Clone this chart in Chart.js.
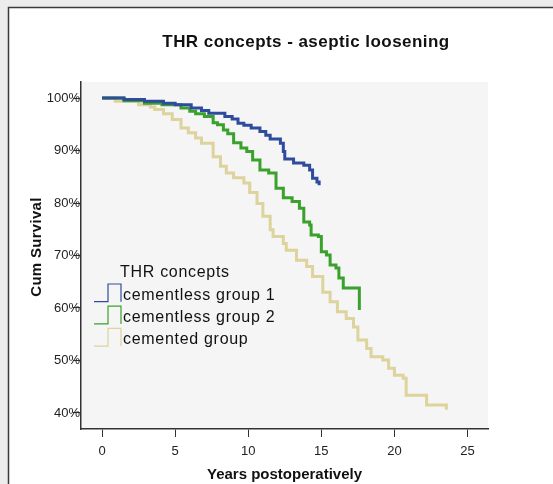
<!DOCTYPE html>
<html>
<head>
<meta charset="utf-8">
<script src="https://cdn.jsdelivr.net/npm/chart.js@4/dist/chart.umd.min.js"></script>
<style>
  html, body { margin: 0; padding: 0; background: #ececec; }
  #wrap { width: 553px; height: 484px; }
</style>
</head>
<body>
<div id="wrap"><canvas id="km-chart" width="553" height="484"></canvas></div>
<script>
// Kaplan-Meier curves, years vs cumulative survival (%)
var g1Years = [0, 1.5, 2.9, 4.2, 5.0, 6.1, 6.8, 7.3, 8.4, 8.9, 9.3, 9.7, 10.2, 10.8, 11.2, 11.5, 12.2, 12.4, 12.5, 13.1, 13.8, 14.2, 14.4, 14.7, 14.85];
var g1Surv  = [100, 99.7, 99.4, 99.0, 98.7, 98.1, 97.6, 97.1, 96.5, 96.0, 95.2, 94.8, 94.3, 93.6, 92.9, 92.2, 91.4, 89.8, 88.4, 87.6, 87.2, 86.3, 84.7, 84.0, 83.4];

var g2Years = [0, 1.5, 2.9, 4.1, 5.4, 6.0, 6.4, 7.0, 7.6, 7.9, 8.3, 8.6, 9.0, 9.5, 9.9, 10.3, 10.8, 11.4, 11.9, 12.4, 13.0, 13.5, 13.8, 14.2, 14.3, 14.8, 15.0, 15.35, 15.6, 16.0, 16.2, 16.5, 17.6];
var g2Surv  = [100, 99.5, 99.0, 98.7, 98.1, 97.5, 97.0, 96.5, 95.3, 94.9, 93.9, 93.2, 91.5, 90.5, 89.8, 88.2, 86.3, 85.7, 82.8, 81.0, 80.3, 79.0, 76.4, 75.8, 73.9, 73.6, 70.7, 70.1, 68.2, 67.6, 65.7, 63.8, 59.6];

var g3Years = [0, 0.9, 2.5, 3.3, 3.6, 4.2, 4.8, 5.4, 5.9, 6.4, 6.8, 7.6, 8.1, 8.5, 9.0, 9.7, 10.1, 10.6, 11.0, 11.5, 11.7, 12.4, 12.6, 13.3, 14.0, 14.4, 15.1, 15.6, 16.1, 16.7, 17.2, 17.5, 18.1, 18.4, 19.2, 19.6, 20.0, 20.6, 20.8, 22.2, 23.55];
var g3Surv  = [100, 99.4, 98.7, 98.3, 97.8, 97.0, 95.9, 94.3, 93.4, 92.4, 91.4, 88.8, 87.0, 85.7, 84.8, 83.8, 82.0, 79.9, 77.5, 74.9, 73.6, 72.3, 71.0, 69.1, 67.9, 66.0, 63.0, 61.2, 59.3, 58.0, 56.4, 53.9, 52.3, 50.7, 50.1, 48.5, 47.2, 46.6, 43.4, 41.5, 40.6];

var seriesNames  = ["cementless group 1", "cementless group 2", "cemented group"];
var seriesColors = ["#2f4b9d", "#3aa12c", "#ddd39c"];
var legendTitle  = "THR concepts";
var chartTitle   = "THR concepts - aseptic loosening";
var xTicks = [0, 5, 10, 15, 20, 25];
var yTicks = [40, 50, 60, 70, 80, 90, 100];

function toPoints(xs, ys) {
  return xs.map(function (x, i) { return { x: x, y: ys[i] }; });
}

var panelPlugin = {
  id: "panel",
  beforeDraw: function (chart) {
    var ctx = chart.ctx, a = chart.chartArea;
    ctx.save();
    ctx.fillStyle = "#ececec";
    ctx.fillRect(0, 0, chart.width, chart.height);
    ctx.fillStyle = "#ffffff";
    ctx.fillRect(8.5, 7.5, chart.width, chart.height);
    ctx.strokeStyle = "#3a3a3a";
    ctx.lineWidth = 1.5;
    ctx.beginPath();
    ctx.moveTo(8.5, chart.height);
    ctx.lineTo(8.5, 7.5);
    ctx.lineTo(chart.width, 7.5);
    ctx.stroke();
    ctx.fillStyle = "#f5f5f5";
    ctx.fillRect(a.left, a.top, a.right - a.left, a.bottom - a.top);
    ctx.restore();
  },
  afterDraw: function (chart) {
    var ctx = chart.ctx;
    ctx.save();
    ctx.fillStyle = "#111";
    // title
    ctx.font = 'bold 17px "Liberation Sans"';
    ctx.letterSpacing = "0.45px";
    ctx.textAlign = "center";
    ctx.textBaseline = "alphabetic";
    ctx.fillText(chartTitle, 306, 46.5);
    // y axis title
    ctx.save();
    ctx.translate(37, 247);
    ctx.rotate(-Math.PI / 2);
    ctx.font = 'bold 15px "Liberation Sans"';
    ctx.letterSpacing = "0.3px";
    ctx.textBaseline = "middle";
    ctx.fillText("Cum Survival", 0, 0);
    ctx.restore();
    // legend
    ctx.font = '16px "Liberation Sans"';
    ctx.letterSpacing = "0.7px";
    ctx.textAlign = "left";
    ctx.fillText(legendTitle, 120, 277);
    seriesNames.forEach(function (name, i) {
      var base = 300 + i * 22.2;
      var top = base - 16, bot = base + 1.7;
      ctx.strokeStyle = seriesColors[i];
      ctx.lineWidth = 1.2;
      ctx.beginPath();
      ctx.moveTo(94, bot);
      ctx.lineTo(108, bot);
      ctx.lineTo(108, top);
      ctx.lineTo(121, top);
      ctx.lineTo(121, bot);
      ctx.stroke();
      ctx.fillStyle = "#111";
      ctx.fillText(name, 123, base);
    });
    ctx.restore();
  }
};

new Chart(document.getElementById("km-chart"), {
  type: "line",
  data: {
    datasets: [
      { label: seriesNames[0], data: toPoints(g1Years, g1Surv), borderColor: seriesColors[0] },
      { label: seriesNames[1], data: toPoints(g2Years, g2Surv), borderColor: seriesColors[1] },
      { label: seriesNames[2], data: toPoints(g3Years, g3Surv), borderColor: seriesColors[2] }
    ]
  },
  options: {
    responsive: false,
    animation: false,
    devicePixelRatio: 1,
    layout: { padding: { left: 0, right: 65, top: 82, bottom: 0 } },
    elements: {
      line: { stepped: true, borderWidth: 3, fill: false, tension: 0 },
      point: { radius: 0, hoverRadius: 0 }
    },
    plugins: {
      legend: { display: false },
      tooltip: { enabled: false }
    },
    scales: {
      x: {
        type: "linear",
        min: -1.44,
        max: 26.4,
        afterBuildTicks: function (s) { s.ticks = xTicks.map(function (v) { return { value: v }; }); },
        afterFit: function (s) { s.height = 55; },
        grid: { drawOnChartArea: false, drawTicks: true, tickLength: 8, color: "#333" },
        border: { display: true, color: "#333", width: 1.5 },
        ticks: { color: "#222", padding: 7, font: { family: "Liberation Sans", size: 13 } },
        title: {
          display: true,
          text: "Years postoperatively",
          color: "#111",
          padding: { top: 0, bottom: 0.5 },
          font: { family: "Liberation Sans", size: 15, weight: "bold" }
        }
      },
      y: {
        type: "linear",
        min: 36.95,
        max: 103.05,
        afterBuildTicks: function (s) { s.ticks = yTicks.map(function (v) { return { value: v }; }); },
        afterFit: function (s) { s.width = 81; },
        grid: { drawOnChartArea: false, drawTicks: true, tickLength: 8, color: "#333" },
        border: { display: true, color: "#333", width: 1.5 },
        ticks: {
          color: "#222",
          padding: -7,
          font: { family: "Liberation Sans", size: 13 },
          callback: function (v) { return v + "%"; }
        }
      }
    }
  },
  plugins: [panelPlugin]
});
</script>
</body>
</html>
